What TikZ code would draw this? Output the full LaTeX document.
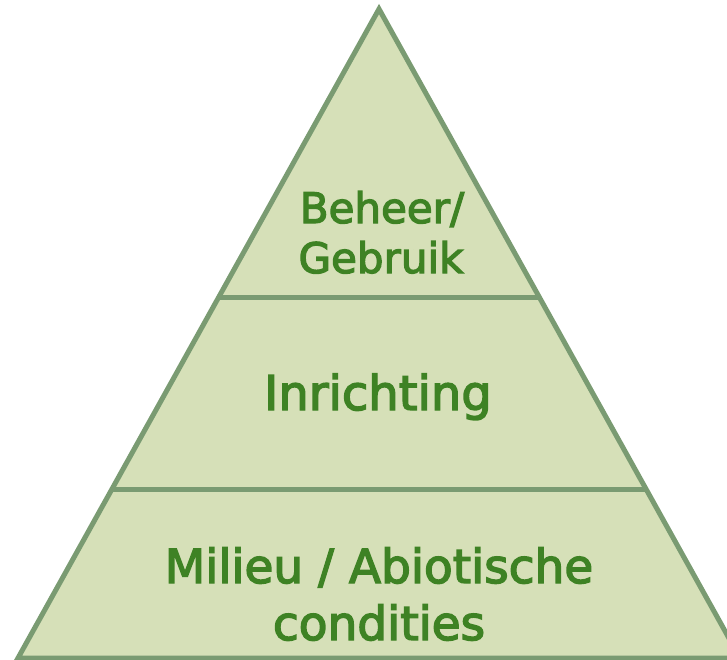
\documentclass[tikz,border=0pt]{standalone}
\usepackage{fontspec}
\setmainfont{DejaVu Sans}
\newfontfamily\pyrfont[FakeBold=3]{DejaVu Sans}
\definecolor{pfill}{HTML}{D6E0B8}
\definecolor{pline}{HTML}{7A9B72}
\definecolor{ptext}{HTML}{3E8224}
\begin{document}
\begin{tikzpicture}[x=1pt,y=-1pt,
  layer/.style={fill=pfill,draw=pline,line width=5pt,line join=miter},
  sep/.style={draw=pline,line width=5pt},
  lbl/.style={text=ptext,anchor=base,inner sep=0pt,align=center}]
\useasboundingbox (0,0) rectangle (727,660);
\coordinate (apex) at (379,9);
\coordinate (bl) at (18,658);
\coordinate (br) at (740,658);
\draw[layer] (apex) -- (bl) -- (br) -- cycle;
\coordinate (l1) at (220,297);
\coordinate (r1) at (538,297);
\coordinate (l2) at (113,489);
\coordinate (r2) at (645,489);
\draw[sep] (l1) -- (r1);
\draw[sep] (l2) -- (r2);
\node[lbl,font=\pyrfont\fontsize{42}{50}\selectfont] (beh) at (382,223) {Beheer/};
\node[lbl,font=\pyrfont\fontsize{42}{50}\selectfont] (geb) at (381,273) {Gebruik};
\node[lbl,font=\pyrfont\fontsize{48}{57}\selectfont] (inr) at (378,410) {Inrichting};
\node[lbl,font=\pyrfont\fontsize{47}{57}\selectfont] (mil) at (379,583) {Milieu / Abiotische};
\node[lbl,font=\pyrfont\fontsize{47}{57}\selectfont] (con) at (379,640) {condities};
\end{tikzpicture}
\end{document}
